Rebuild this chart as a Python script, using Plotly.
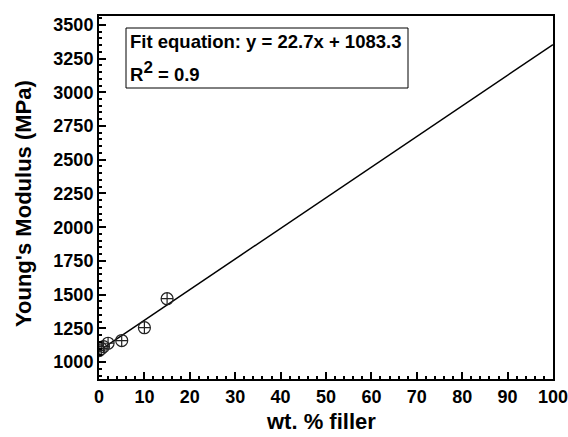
import plotly.graph_objects as go

wt_filler = [0, 0.5, 1, 2, 5, 10, 15]
modulus = [1085, 1100, 1115, 1140, 1160, 1255, 1470]
fit_slope = 22.7
fit_intercept = 1083.3
fit_x = [0, 100]
x_ticks = list(range(0, 101, 10))
y_ticks = list(range(1000, 3501, 250))

FONT = "Liberation Sans, Arial, sans-serif"

W, H = 568, 437
L, R, T, B = 99, 15, 16, 58
pw, ph = W - L - R, H - T - B

def px(xp):
    return (xp - L) / pw

def py(yp):
    return (H - B - yp) / ph

fig = go.Figure()
fig.add_trace(go.Scatter(
    x=fit_x, y=[fit_slope * v + fit_intercept for v in fit_x],
    mode="lines", line=dict(color="black", width=1.5), showlegend=False))
fig.add_trace(go.Scatter(
    x=wt_filler, y=modulus, mode="markers",
    marker=dict(symbol="circle-cross-open", size=12, color="#222",
                line=dict(width=1.2)),
    showlegend=False))

# equation box
fig.add_shape(type="rect", xref="paper", yref="paper",
              x0=px(126), x1=px(408), y0=py(28), y1=py(88),
              line=dict(color="black", width=1), fillcolor="white", layer="above")
fig.add_annotation(
    x=px(128), y=py(42), xref="paper", yref="paper", xanchor="left", yanchor="middle",
    text="Fit equation: y = 22.7x + 1083.3", showarrow=False,
    font=dict(family=FONT, size=18.5, color="black", weight="bold"))
fig.add_annotation(
    x=px(128), y=py(71), xref="paper", yref="paper", xanchor="left", yanchor="middle",
    text="R<sup><span style='font-size:17px'>2</span></sup> = 0.9", showarrow=False,
    font=dict(family=FONT, size=18.5, color="black", weight="bold"))

# axis titles
fig.add_annotation(
    x=px(321), y=py(421), xref="paper", yref="paper", xanchor="center", yanchor="middle",
    text="wt. % filler", showarrow=False,
    font=dict(family=FONT, size=22, color="black", weight="bold"))
fig.add_annotation(
    x=px(23), y=py(204), xref="paper", yref="paper", xanchor="center", yanchor="middle",
    text="Young's Modulus (MPa)", showarrow=False, textangle=-90,
    font=dict(family=FONT, size=22, color="black", weight="bold"))

axis_common = dict(
    showline=True, linecolor="black", linewidth=2, mirror=True,
    ticks="inside", tickwidth=2, ticklen=7, tickcolor="black",
    showgrid=False, zeroline=False, automargin=False, ticklabeloverflow="allow",
    tickfont=dict(family=FONT, size=18, color="black", weight="bold"),
)

fig.update_xaxes(
    range=[0, 100], tickmode="array", tickvals=x_ticks,
    minor=dict(ticks="inside", ticklen=3, tickwidth=2, tickcolor="black", dtick=2, tick0=0),
    **axis_common)
fig.update_yaxes(
    range=[875, 3565], tickmode="array", tickvals=y_ticks,
    minor=dict(ticks="inside", ticklen=3, tickwidth=2, tickcolor="black", dtick=50, tick0=0),
    **axis_common)

fig.update_layout(
    width=W, height=H,
    margin=dict(l=L, r=R, t=T, b=B),
    paper_bgcolor="white", plot_bgcolor="white",
)

fig.write_html("out.html")
